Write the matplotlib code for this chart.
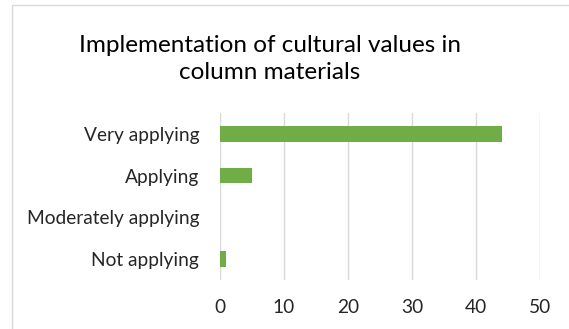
import matplotlib.pyplot as plt
from matplotlib.patches import Rectangle

# categories listed bottom to top
categorias = ["Not applying", "Moderately applying", "Applying", "Very applying"]
valores = [1, 0, 5, 44]
ticks_x = [0, 10, 20, 30, 40, 50]

plt.rcParams['font.family'] = ['Lato', 'DejaVu Sans']

fig = plt.figure(figsize=(5.69, 3.29), dpi=100)

# moldura do gráfico (cinza claro)
fig.patches.append(Rectangle((12/569, -0.1), 1.2, 1 - 5/329 + 0.1, transform=fig.transFigure,
                             fill=False, edgecolor='#D9D9D9', linewidth=1.0))

ax = fig.add_axes([220/569, 1 - 280/329, 320/569, 167/329])
ax.barh(categorias, valores, height=0.37, color='#70AD47', zorder=3)

ax.set_xlim(0, 50)
ax.set_ylim(-0.5, 3.5)
ax.set_xticks(ticks_x)
ax.grid(axis='x', color='#D9D9D9', linewidth=1.0, zorder=0)
for s in ax.spines.values():
    s.set_visible(False)
ax.tick_params(axis='both', length=0, labelsize=13.8, colors='#262626')
ax.tick_params(axis='y', pad=15)
ax.tick_params(axis='x', pad=14)

fig.text(270/569, 1 - 59/329, "Implementation of cultural values in\ncolumn materials",
         ha='center', va='center', fontsize=17.5, color='#000000', linespacing=1.32)

fig.savefig("out.png", dpi=100)
